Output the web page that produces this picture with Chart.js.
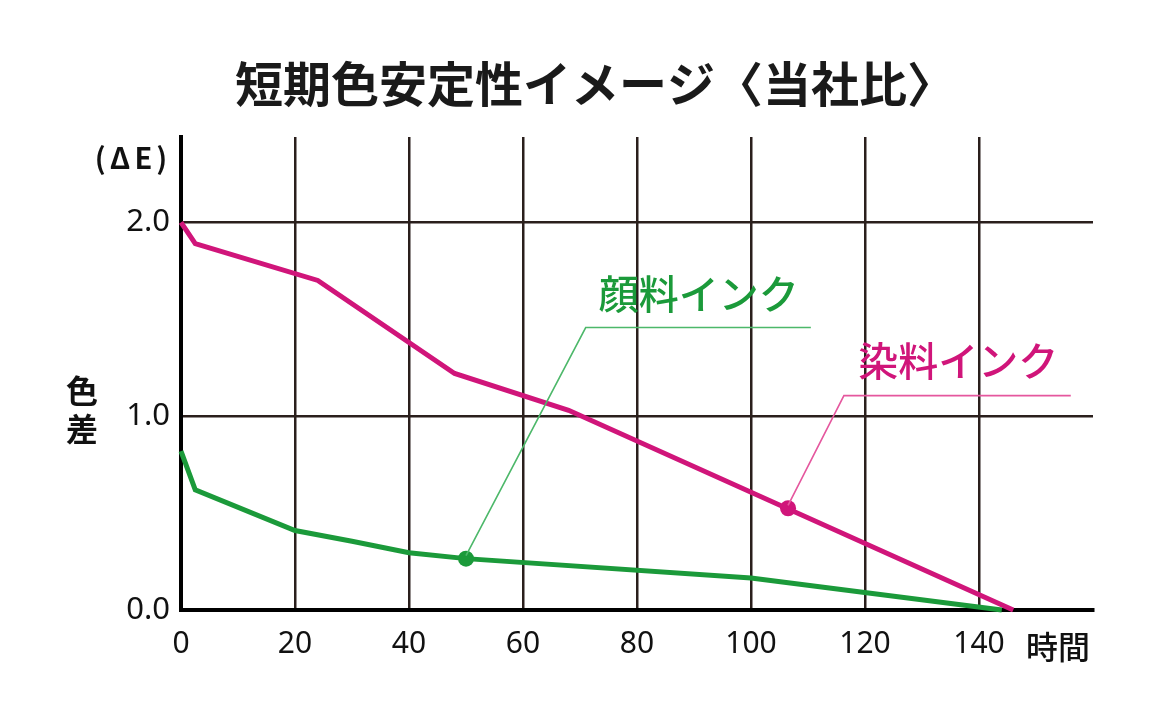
<!DOCTYPE html>
<html>
<head>
<meta charset="utf-8">
<script src="https://cdn.jsdelivr.net/npm/chart.js@4/dist/chart.umd.min.js"></script>
<style>
  html, body { margin: 0; padding: 0; background: #fff; }
  #wrap { width: 1160px; height: 720px; }
</style>
</head>
<body>
<div id="wrap"><canvas id="chart" width="1160" height="720"></canvas></div>
<script>
// 短期色安定性 (時間 vs 色差ΔE)
const xTicks = [0, 20, 40, 60, 80, 100, 120, 140];
const yTicks = [0, 1, 2];

const dyeHours = [0, 2.5, 24, 48, 68, 146];
const dyeDelta = [2.0, 1.89, 1.70, 1.22, 1.03, 0];

const pigmentHours = [0, 2.5, 20, 30, 40, 50, 100, 144];
const pigmentDelta = [0.82, 0.62, 0.41, 0.355, 0.295, 0.265, 0.165, 0];

const dyeMarker = [106.5, 0.525];
const pigmentMarker = [50, 0.265];

const seriesNames = ['染料インク', '顔料インク'];
const chartTitle = '短期色安定性イメージ〈当社比〉';

const MAGENTA = '#D0157A';
const GREEN = '#1B9A3A';

// callout leader lines, in data units
const pigmentCallout = [[50, 0.28], [71, 1.457], [110.5, 1.457]];
const dyeCallout = [[106.5, 0.54], [116.3, 1.106], [156.1, 1.106]];

function toPoints(xs, ys) {
    return xs.map((x, i) => ({ x: x, y: ys[i] }));
}

const FONT = '"Noto Sans CJK JP", "Noto Sans", sans-serif';

const labelsPlugin = {
    id: 'labels',
    afterDraw(chart) {
        const ctx = chart.ctx;
        const xs = chart.scales.x, ys = chart.scales.y;
        ctx.save();
        ctx.textBaseline = 'middle';

        // title
        ctx.fillStyle = '#1a1a1a';
        ctx.font = 'bold 48px ' + FONT;
        ctx.textAlign = 'center';
        ctx.fillText(chartTitle, 595, 84);

        // series labels
        ctx.font = '500 40px ' + FONT;
        ctx.textAlign = 'left';
        ctx.fillStyle = GREEN;
        ctx.fillText(seriesNames[1], xs.getPixelForValue(73.3), ys.getPixelForValue(1.63));
        ctx.fillStyle = MAGENTA;
        ctx.fillText(seriesNames[0], xs.getPixelForValue(118.8), ys.getPixelForValue(1.285));

        // axis titles
        ctx.fillStyle = '#111';
        ctx.font = 'bold 32px ' + FONT;
        ctx.textAlign = 'center';
        ctx.fillText('色', 82, 391);
        ctx.fillText('差', 82, 429);

        ctx.font = '500 32px ' + FONT;
        ctx.textAlign = 'left';
        ctx.fillText('時間', 1026, 647);

        ctx.font = 'bold 29px ' + FONT;
        ctx.letterSpacing = '4px';
        ctx.textAlign = 'center';
        ctx.fillText('(ΔE)', 133, 158);
        ctx.restore();
    }
};

const ctx = document.getElementById('chart').getContext('2d');
const chart = new Chart(ctx, {
    type: 'line',
    data: {
        datasets: [
            {
                label: 'pigment callout',
                data: toPoints(pigmentCallout.map(p => p[0]), pigmentCallout.map(p => p[1])),
                borderColor: '#4DB86A',
                borderWidth: 1.6,
                pointRadius: 0,
                clip: false
            },
            {
                label: 'dye callout',
                data: toPoints(dyeCallout.map(p => p[0]), dyeCallout.map(p => p[1])),
                borderColor: '#E5579E',
                borderWidth: 1.6,
                pointRadius: 0,
                clip: false
            },
            {
                label: seriesNames[1],
                data: toPoints(pigmentHours, pigmentDelta),
                borderColor: GREEN,
                borderWidth: 5,
                pointRadius: 0,
                clip: false
            },
            {
                label: seriesNames[0],
                data: toPoints(dyeHours, dyeDelta),
                borderColor: MAGENTA,
                borderWidth: 5,
                pointRadius: 0,
                clip: false
            },
            {
                label: 'pigment marker',
                data: [{ x: pigmentMarker[0], y: pigmentMarker[1] }],
                pointRadius: 8,
                pointBackgroundColor: GREEN,
                pointBorderWidth: 0,
                showLine: false,
                clip: false
            },
            {
                label: 'dye marker',
                data: [{ x: dyeMarker[0], y: dyeMarker[1] }],
                pointRadius: 8,
                pointBackgroundColor: MAGENTA,
                pointBorderWidth: 0,
                showLine: false,
                clip: false
            }
        ]
    },
    options: {
        responsive: false,
        animation: false,
        layout: { padding: { top: 137, right: 67, bottom: 0, left: 0 } },
        plugins: {
            legend: { display: false },
            tooltip: { enabled: false },
            title: { display: false }
        },
        scales: {
            x: {
                type: 'linear',
                min: 0,
                max: 160,
                afterBuildTicks(scale) {
                    scale.ticks = xTicks.concat([160]).map(v => ({ value: v }));
                },
                afterFit(scale) { scale.height = 110; },
                ticks: {
                    color: '#111',
                    padding: 16,
                    maxRotation: 0,
                    font: { family: '"Noto Sans", sans-serif', size: 30 },
                    callback: v => (xTicks.includes(v) ? String(v) : '')
                },
                grid: {
                    drawTicks: false,
                    lineWidth: 2.5,
                    color: c => (c.tick && c.tick.value > 0 && c.tick.value < 160 ? '#2a1f1c' : 'rgba(0,0,0,0)')
                },
                border: { display: true, color: '#000', width: 4 }
            },
            y: {
                type: 'linear',
                min: 0,
                max: 2.44,
                afterBuildTicks(scale) {
                    scale.ticks = yTicks.map(v => ({ value: v }));
                },
                afterFit(scale) { scale.width = 181; },
                ticks: {
                    color: '#111',
                    padding: 11,
                    font: { family: '"Noto Sans", sans-serif', size: 31 },
                    callback: v => v.toFixed(1)
                },
                grid: {
                    drawTicks: false,
                    lineWidth: 2.5,
                    color: c => (c.tick && c.tick.value > 0 ? '#2a1f1c' : 'rgba(0,0,0,0)')
                },
                border: { display: true, color: '#000', width: 4 }
            }
        }
    },
    plugins: [labelsPlugin]
});
</script>
</body>
</html>
